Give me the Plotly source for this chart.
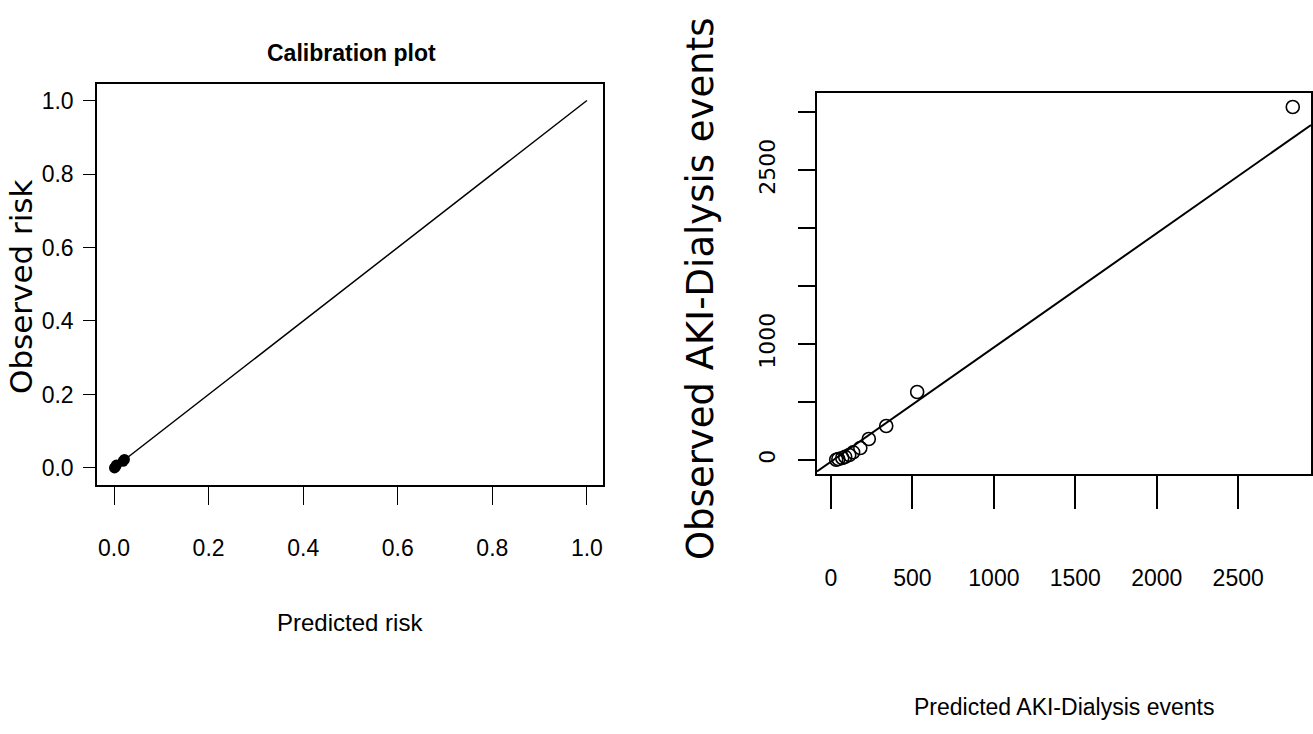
import plotly.graph_objects as go

# ---- data: left panel (calibration plot) ----
left_predicted = [0.001, 0.003, 0.005, 0.019, 0.022]
left_observed = [0.000, 0.003, 0.008, 0.018, 0.023]
left_ticks = [0.0, 0.2, 0.4, 0.6, 0.8, 1.0]
left_ticklabels = ["0.0", "0.2", "0.4", "0.6", "0.8", "1.0"]
ref_line_x = [0.0, 1.0]
ref_line_y = [0.0, 1.0]

# ---- data: right panel (events) ----
right_predicted = [32, 45, 69, 87, 112, 136, 180, 232, 339, 529, 2835]
right_observed = [2, 8, 17, 27, 43, 66, 103, 181, 293, 586, 3043]
right_xticks = [0, 500, 1000, 1500, 2000, 2500]
right_xticklabels = ["0", "500", "1000", "1500", "2000", "2500"]
right_yticks = [0, 500, 1000, 1500, 2000, 2500, 3000]
right_yticklabels = ["0", "", "1000", "", "", "2500", ""]
fit_intercept = -15.0
fit_slope = 0.985

W, H = 1313, 734
NARROW = "Liberation Sans, Arial, sans-serif"
WIDE = "DejaVu Sans, sans-serif"

x1_range = [-0.036, 1.034]
y1_range = [-0.045, 1.045]
x2_range = [-86, 2947]
y2_range = [-121, 3164]

fig = go.Figure()

fig.add_trace(go.Scatter(x=ref_line_x, y=ref_line_y, mode="lines",
                         line=dict(color="black", width=1.5),
                         xaxis="x", yaxis="y", showlegend=False))
fig.add_trace(go.Scatter(x=left_predicted, y=left_observed, mode="markers",
                         marker=dict(color="black", size=11, symbol="circle"),
                         xaxis="x", yaxis="y", showlegend=False))

fit_x = x2_range
fit_y = [fit_intercept + fit_slope * v for v in fit_x]
fig.add_trace(go.Scatter(x=fit_x, y=fit_y, mode="lines",
                         line=dict(color="black", width=2),
                         xaxis="x2", yaxis="y2", showlegend=False))
fig.add_trace(go.Scatter(x=right_predicted, y=right_observed, mode="markers",
                         marker=dict(color="black", size=13, symbol="circle-open",
                                     line=dict(color="black", width=1.6)),
                         xaxis="x2", yaxis="y2", showlegend=False))

common = dict(showgrid=False, zeroline=False, showline=True, mirror=True,
              linecolor="black", ticks="outside", tickcolor="black")

fig.update_layout(
    width=W, height=H,
    margin=dict(l=0, r=0, t=0, b=0, autoexpand=False),
    paper_bgcolor="white", plot_bgcolor="white",
    xaxis=dict(domain=[97 / W, 603 / W], range=x1_range, anchor="y",
               tickvals=left_ticks, ticktext=left_ticklabels,
               ticklen=19, tickwidth=1.3, linewidth=1.5,
               tickfont=dict(family=NARROW, size=23, color="black"),
               ticklabelstandoff=23, **common),
    yaxis=dict(domain=[1 - 484.5 / H, 1 - 84 / H], range=y1_range, anchor="x",
               tickvals=left_ticks, ticktext=left_ticklabels,
               ticklen=12, tickwidth=1.3, linewidth=1.5,
               tickfont=dict(family=NARROW, size=23, color="black"),
               ticklabelstandoff=5, **common),
    xaxis2=dict(domain=[817 / W, 1311 / W], range=x2_range, anchor="y2",
                tickvals=right_xticks, ticktext=right_xticklabels,
                ticklen=33, tickwidth=1.6, linewidth=2,
                tickfont=dict(family=NARROW, size=23, color="black"),
                ticklabelstandoff=49, **common),
    yaxis2=dict(domain=[1 - 474 / H, 1 - 93 / H], range=y2_range, anchor="x2",
                tickvals=right_yticks, ticktext=right_yticklabels,
                ticklen=17, tickwidth=1.6, linewidth=2, tickangle=-90,
                tickfont=dict(family=WIDE, size=22, color="black"),
                ticklabelstandoff=14, **common),
    annotations=[
        dict(text="<b>Calibration plot</b>", x=351 / W, y=1 - 53 / H,
             xref="paper", yref="paper", showarrow=False,
             xanchor="center", yanchor="middle",
             font=dict(family=NARROW, size=23, color="black")),
        dict(text="Predicted risk", x=350 / W, y=1 - 622 / H,
             xref="paper", yref="paper", showarrow=False,
             xanchor="center", yanchor="middle",
             font=dict(family=NARROW, size=24, color="black")),
        dict(text="Observed risk", x=21 / W, y=1 - 287 / H,
             xref="paper", yref="paper", showarrow=False, textangle=-90,
             xanchor="center", yanchor="middle",
             font=dict(family=WIDE, size=31, color="black")),
        dict(text="Predicted AKI-Dialysis events", x=1064 / W, y=1 - 707 / H,
             xref="paper", yref="paper", showarrow=False,
             xanchor="center", yanchor="middle",
             font=dict(family=NARROW, size=23, color="black")),
        dict(text="Observed AKI-Dialysis events", x=700 / W, y=1 - 289 / H,
             xref="paper", yref="paper", showarrow=False, textangle=-90,
             xanchor="center", yanchor="middle",
             font=dict(family=WIDE, size=37, color="black")),
    ],
)

fig.write_html(
    "out.html",
    config={"displayModeBar": False},
    post_script="document.body.style.margin='0';document.body.style.padding='0';"
                "document.body.style.overflow='hidden';",
)
